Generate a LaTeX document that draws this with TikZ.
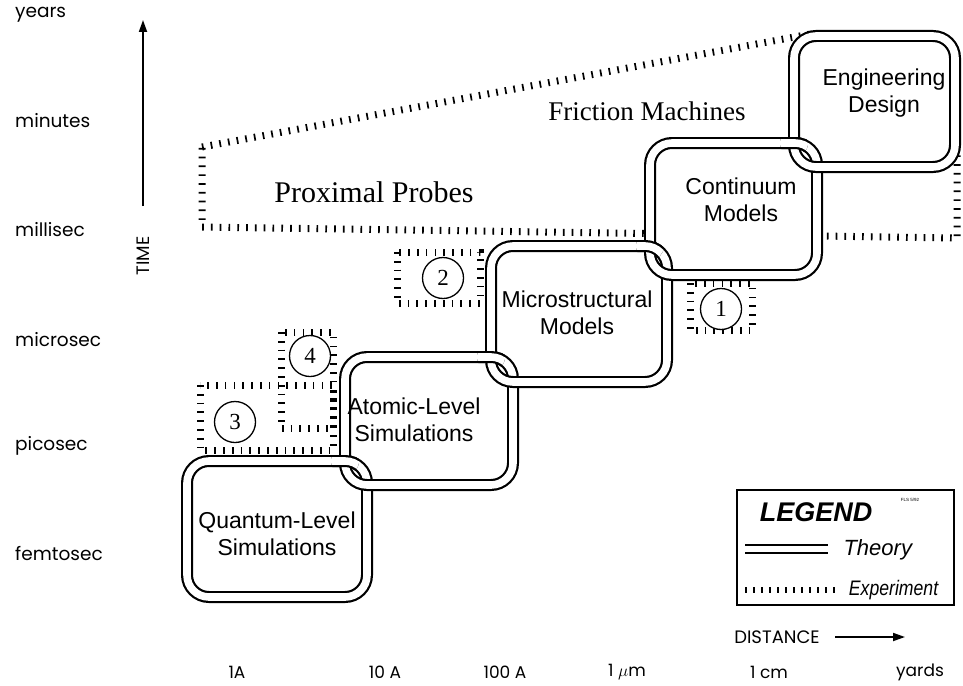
\documentclass[tikz,border=0pt]{standalone}
\usepackage{fontspec}
\setmainfont{Liberation Sans}
\newfontfamily\serifA{Liberation Serif}
\newfontfamily\axisf{Poppins}
\usetikzlibrary{arrows.meta}
\begin{document}
\begin{tikzpicture}[x=1pt,y=-1pt,
  linkst/.style={draw=black, line width=2.2, double=white, double distance=7.6, rounded corners=22},
  linkfill/.style={fill=white, rounded corners=22},
  exper/.style={draw=black, line width=7, dash pattern=on 1.7 off 7.1},
  boxtext/.style={font=\fontsize{23}{27}\selectfont, align=center},
  axl/.style={font=\axisf\fontsize{18.5}{20}\selectfont, anchor=west, inner sep=0},
  dlab/.style={font=\axisf\fontsize{17}{20}\selectfont},
  numc/.style={circle, draw, line width=1.3, fill=white, minimum size=41, inner sep=0,
    font=\serifA\fontsize{23}{23}\selectfont},
  arr/.style={line width=1.8, -{Triangle[length=12,width=8]}}
]
\useasboundingbox (0,0) rectangle (963,685);

% ---- experiment regions ----
\draw[exper] (202,147) -- (808,34.5) -- (940,100) -- (957,100) -- (957,238) -- (202,227) -- cycle;
\draw[exper] (200,385) rectangle (333,450);
\draw[exper] (281,332) rectangle (333,428);
\draw[exper] (397,252) rectangle (480,303);
\draw[exper] (690,283) rectangle (752,330);

\node[numc] (c3) at (235,422) {3};
\node[numc] (c4) at (310,356) {4};
\node[numc] (c2) at (443,278) {2};
\node[numc] (c1) at (721,309) {1};

\node[font=\serifA\fontsize{30}{30}\selectfont] (pp) at (374,192) {Proximal Probes};
\node[font=\serifA\fontsize{27}{27}\selectfont] (fm) at (647,111) {Friction Machines};

% ---- theory links ----
\fill[linkfill] (187,461) rectangle (367,597);
\fill[linkfill] (345,357) rectangle (513,485);
\fill[linkfill] (491,246) rectangle (667,382);
\fill[linkfill] (650,143) rectangle (817,275);
\fill[linkfill] (794,36) rectangle (955,167);

\draw[linkst] (187,461) rectangle (367,597);
\draw[linkst] (345,357) rectangle (513,485);
\draw[linkst] (491,246) rectangle (667,382);
\draw[linkst] (650,143) rectangle (817,275);
\draw[linkst] (794,36) rectangle (955,167);

% interlocking: lower link's top edge passes over upper link's left edge
\begin{scope}\clip (345,461) circle (14); \draw[linkst] (187,461) rectangle (367,597);\end{scope}
\begin{scope}\clip (491,357) circle (14); \draw[linkst] (345,357) rectangle (513,485);\end{scope}
\begin{scope}\clip (650,246) circle (14); \draw[linkst] (491,246) rectangle (667,382);\end{scope}
\begin{scope}\clip (794,143) circle (14); \draw[linkst] (650,143) rectangle (817,275);\end{scope}

\node[boxtext] (q) at (277,534) {Quantum-Level\\Simulations};
\node[boxtext] (a) at (414,420) {Atomic-Level\\Simulations};
\node[boxtext] (m) at (577,313) {Microstructural\\Models};
\node[boxtext] (cm) at (741,200) {Continuum\\Models};
\node[boxtext] (ed) at (884,93) {Engineering\\Design};

% ---- time axis ----
\node[axl] (yr) at (15,15) {years};
\node[axl] (mn) at (15,121) {minutes};
\node[axl] (ms) at (15,230) {millisec};
\node[axl] (us) at (15,340) {microsec};
\node[axl] (ps) at (15,446) {picosec};
\node[axl] (fs) at (15,554) {femtosec};
\coordinate (tb) at (143,206);
\coordinate (tt) at (143,20);
\draw[arr] (tb) -- (tt);
\node[dlab, font=\axisf\fontsize{18}{20}\selectfont, rotate=90] (time) at (143,256) {TIME};

% ---- distance axis ----
\node[dlab] (d1) at (237,672) {1A};
\node[dlab] (d2) at (385,672) {10 A};
\node[dlab] (d3) at (505,672) {100 A};
\node[dlab] (d4) at (627,672) {1 $\mu$m};
\node[dlab] (d5) at (769,672) {1 cm};
\node[dlab] (d6) at (920,672) {yards};
\node[dlab, font=\axisf\fontsize{18}{20}\selectfont] (dist) at (777,637) {DISTANCE};
\coordinate (da) at (835,637);
\coordinate (db) at (905,637);
\draw[arr] (da) -- (db);

% ---- legend ----
\draw[line width=1.1] (737,490) rectangle (954,605);
\node[font=\bfseries\itshape\fontsize{27}{27}\selectfont] (lg) at (816,512) {LEGEND};
\node[font=\fontsize{4.5}{5}\selectfont] (fls) at (910,500) {FLS 5/92};
\draw[line width=1.3] (745,545) -- (828,545);
\draw[line width=1.3] (745,553) -- (828,553);
\node[font=\itshape\fontsize{22}{22}\selectfont, anchor=west] (th) at (840,550) {Theory};
\draw[draw=black, line width=6, dash pattern=on 1.5 off 6.5] (745,590) -- (836,590);
\node[font=\itshape\fontsize{21}{22}\selectfont, anchor=west, xscale=0.84] (ex) at (846,590) {Experiment};
\end{tikzpicture}
\end{document}
